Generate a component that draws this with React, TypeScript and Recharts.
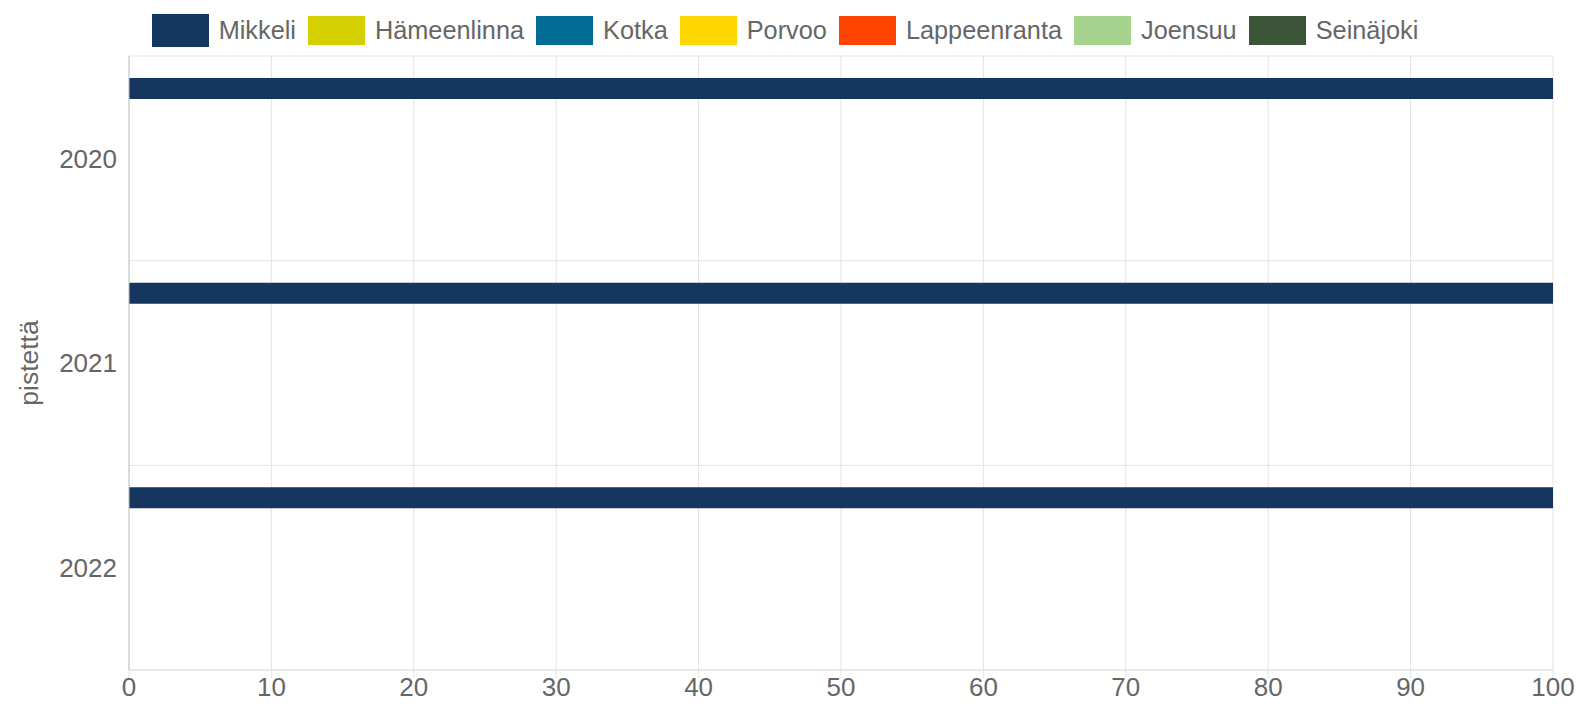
import React from 'react';
import { BarChart, Bar, XAxis, YAxis, CartesianGrid, Legend } from 'recharts';

const years = ['2020', '2021', '2022'];
const cities = ['Mikkeli', 'Hämeenlinna', 'Kotka', 'Porvoo', 'Lappeenranta', 'Joensuu', 'Seinäjoki'];
const colors = ['#15365e', '#d4cf00', '#006b94', '#ffd700', '#ff4300', '#a6d38d', '#3b5437'];

const mikkeli = [100, 100, 100];
const hameenlinna = [null, null, null];
const kotka = [null, null, null];
const porvoo = [null, null, null];
const lappeenranta = [null, null, null];
const joensuu = [null, null, null];
const seinajoki = [null, null, null];

const xTicks = [0, 10, 20, 30, 40, 50, 60, 70, 80, 90, 100];

const series = [mikkeli, hameenlinna, kotka, porvoo, lappeenranta, joensuu, seinajoki];
const data = years.map((y, i) => {
  const row: Record<string, any> = { year: y };
  cities.forEach((c, j) => {
    row[c] = series[j][i];
  });
  return row;
});

const font = '"Liberation Sans", Arial, sans-serif';

function LegendBox() {
  return (
    <div style={{ display: 'flex', justifyContent: 'center', alignItems: 'center', height: 33, fontFamily: font, fontSize: 25.3, color: '#666' }}>
      {cities.map((c, i) => (
        <div key={c} style={{ display: 'flex', alignItems: 'center', marginRight: i < cities.length - 1 ? 12 : 0 }}>
          <span style={{ display: 'inline-block', width: 57, height: i === 0 ? 33 : 29, background: colors[i], marginRight: 10 }} />
          <span>{c}</span>
        </div>
      ))}
    </div>
  );
}

export default function App() {
  return (
    <div style={{ position: 'absolute', left: 0, top: 0, width: 1581, height: 707, background: '#fff' }}>
      <BarChart
        width={1581}
        height={707}
        data={data}
        layout="vertical"
        margin={{ top: 23, right: 28, bottom: 0, left: 0 }}
        barCategoryGap={22}
        barGap={2.3}
      >
        <CartesianGrid
          stroke="#e3e3e3"
          horizontalCoordinatesGenerator={({ offset }: any) => [0, 1, 2, 3].map((k) => offset.top + (offset.height * k) / 3)}
        />
        <XAxis
          type="number"
          domain={[0, 100]}
          ticks={xTicks}
          axisLine={{ stroke: '#e0e0e0' }}
          tickLine={{ stroke: '#e3e3e3' }}
          tickSize={8}
          tickMargin={0}
          height={37}
          tick={{ fill: '#666', fontSize: 26, fontFamily: font }}
        />
        <YAxis
          type="category"
          dataKey="year"
          width={129}
          axisLine={{ stroke: '#c4c4c4' }}
          tickLine={false}
          tickMargin={6}
          tick={{ fill: '#666', fontSize: 26, fontFamily: font }}
          label={{ value: 'pistettä', angle: -90, position: 'center', dx: -36, fill: '#666', fontSize: 26.5, fontFamily: font }}
        />
        <Legend verticalAlign="top" content={<LegendBox />} wrapperStyle={{ top: 14, left: 0, width: 1570 }} />
        {cities.map((c, i) => (
          <Bar key={c} dataKey={c} fill={colors[i]} isAnimationActive={false} />
        ))}
      </BarChart>
    </div>
  );
}
